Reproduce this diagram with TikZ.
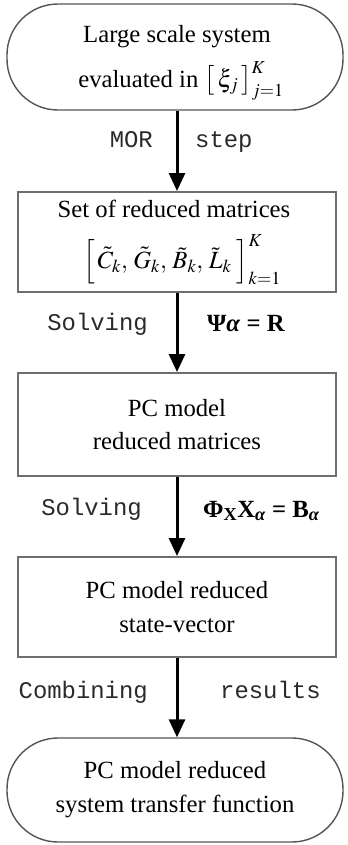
\documentclass[tikz,border=0pt]{standalone}
\usepackage{mathptmx}
\usepackage[no-math]{fontspec}
\setmainfont{Liberation Serif}
\setmonofont{Liberation Mono}
\usetikzlibrary{arrows.meta}
\definecolor{boxgray}{HTML}{6E6E6E}
\definecolor{termgray}{HTML}{555555}
\definecolor{labgray}{HTML}{2A2A2A}
\newcommand\mainsz{\fontsize{24.8}{34}\selectfont}
\newcommand\labsz{\ttfamily\fontsize{24}{24}\selectfont}
\tikzset{
  stepbox/.style={draw=boxgray, line width=2bp, minimum width=318bp, inner sep=0pt, align=center, font=\mainsz},
  term/.style={draw=termgray, line width=1.4bp, minimum width=336bp, rounded corners=51bp, inner sep=0pt, align=center, font=\mainsz},
  flow/.style={line width=3bp, -{Triangle[length=18bp,width=16bp]}},
  lab/.style={font=\labsz, inner sep=0pt, text=labgray},
  txt/.style={font=\mainsz, inner sep=0pt, anchor=base},
  eq/.style={font=\mainsz, inner sep=0pt}
}
\begin{document}
\begin{tikzpicture}[x=1bp,y=-1bp]
\useasboundingbox (0,0) rectangle (347,845);
\node[term, minimum height=106bp] (t1) at (175,57) {};
\node[txt] (t1a) at (177,42) {Large scale system};
\node[txt] (t1b) at (181,87) {evaluated in $\big[\,\xi_j\,\big]_{j=1}^{K}$};
\node[stepbox, minimum height=100bp] (b2) at (177,242) {};
\node[txt] (b2a) at (174,217) {Set of reduced matrices};
\node[txt] (b2b) at (182,268) {$\Big[\,\tilde{C}_k,\,\tilde{G}_k,\,\tilde{B}_k,\,\tilde{L}_k\;\Big]_{k=1}^{K}$};
\node[stepbox, minimum height=103bp] (b3) at (177,424.5) {PC model\\ reduced matrices};
\node[stepbox, minimum height=100bp] (b4) at (177,607) {PC model reduced\\ state-vector};
\node[term, minimum height=104bp] (t5) at (175,790) {PC model reduced\\ system transfer function};

\draw[flow] (b2.north |- t1.south) -- (b2.north);
\draw[flow] (b2.south) -- (b3.north);
\draw[flow] (b3.south) -- (b4.north);
\draw[flow] (b4.south) -- (b2.north |- t5.north);

\node[lab, anchor=base east] (l1a) at (153,147) {MOR};
\node[lab, anchor=base west] (l1b) at (195,147) {step};
\node[lab, anchor=base east] (l2a) at (148,330) {Solving};
\node[eq, anchor=base west] (l2b) at (207,331) {\bfseries Ψ\textit{α} = R};
\node[lab, anchor=base east] (l3a) at (142,515) {Solving};
\node[eq, anchor=base west] (l3b) at (203,517) {\bfseries Φ\textsubscript{X}X\textsubscript{\itshape α} = B\textsubscript{\itshape α}};
\node[lab, anchor=base east] (l4a) at (148,698) {Combining};
\node[lab, anchor=base west] (l4b) at (220,698) {results};
\end{tikzpicture}
\end{document}
